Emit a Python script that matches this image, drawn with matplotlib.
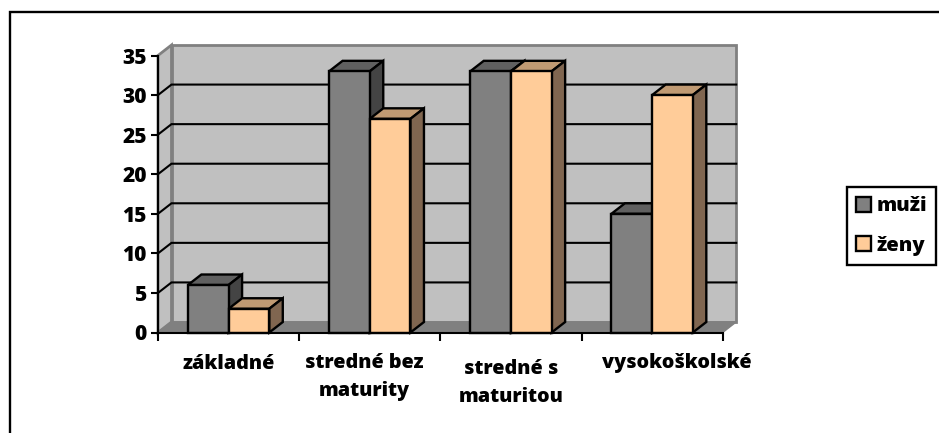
import matplotlib
matplotlib.use("Agg")
import matplotlib.pyplot as plt
from matplotlib.patches import Polygon, Patch
from matplotlib.transforms import ScaledTranslation

categories = ["základné", "stredné bez\nmaturity", "stredné s\nmaturitou", "vysokoškolské"]
muzi = [6, 33, 33, 15]
zeny = [3, 27, 33, 30]
y_ticks = [0, 5, 10, 15, 20, 25, 30, 35]

W, H = 939, 433
plt.rcParams["font.family"] = "Open Sans"
plt.rcParams["font.weight"] = 800
fig = plt.figure(figsize=(W / 100, H / 100), dpi=100, facecolor="white")
x0, x1, y0, y1 = 158, 722.7, 332.5, 55.5
ax = fig.add_axes([x0 / W, 1 - y0 / H, (x1 - x0) / W, (y0 - y1) / H])
ax.set_xlim(0, 4)
ax.set_ylim(0, 35)
ax.patch.set_visible(False)
for s in ("top", "right"):
    ax.spines[s].set_visible(False)
for s in ("left", "bottom"):
    ax.spines[s].set_linewidth(1.5)
    ax.spines[s].set_zorder(20)

DX = 13.5 / ((x1 - x0) / 4)
DY = 10.5 / ((y0 - y1) / 35)
GRAY = "#808080"
BW = 40.7 / ((x1 - x0) / 4)

def poly(pts, fc, ec, lw, z):
    ax.add_patch(Polygon(pts, closed=True, facecolor=fc, edgecolor=ec, linewidth=lw,
                         joinstyle="miter", clip_on=False, zorder=z))

# walls and floor
poly([(DX, DY), (4 + DX, DY), (4 + DX, 35 + DY), (DX, 35 + DY)], "#C0C0C0", GRAY, 2, 1)
poly([(0, 0), (DX, DY), (DX, 35 + DY), (0, 35)], "#C0C0C0", GRAY, 2, 1)
poly([(0, 0), (4, 0), (4 + DX, DY), (DX, DY)], GRAY, GRAY, 1, 2)

# gridlines
for v in y_ticks[1:-1]:
    ax.plot([0, DX, 4 + DX], [v, v + DY, v + DY], color="black", lw=1.5, zorder=3,
            clip_on=False, solid_joinstyle="miter")

# bars
def bar3d(i, value, offset, front, top, side, z):
    left = i + 0.5 + offset
    right = left + BW
    ax.bar(left, value, width=BW, align="edge", color=front, edgecolor="black",
           linewidth=1.7, zorder=z + 0.2, clip_on=False)
    poly([(left, value), (right, value), (right + DX, value + DY), (left + DX, value + DY)],
         top, "black", 1.7, z)
    poly([(right, 0), (right + DX, DY), (right + DX, value + DY), (right, value)],
         side, "black", 1.7, z)

for i in range(len(categories)):
    bar3d(i, muzi[i], -BW, GRAY, "#606060", "#444444", 5 + 2 * i)
    bar3d(i, zeny[i], 0, "#FFCC99", "#C09A73", "#806650", 6 + 2 * i)

# axes ticks
ax.set_yticks(y_ticks)
ax.tick_params(axis="y", length=5, width=1.5, labelsize=15, pad=3)
ax.set_xticks(range(5))
ax.set_xticklabels([])
ax.tick_params(axis="x", which="major", length=5.5, width=1.5)
ax.set_xticks([i + 0.5 for i in range(4)], categories, minor=True)
ax.tick_params(axis="x", which="minor", length=0, labelsize=14.2, pad=15)
label_dx = [0, -6, 0, 25]
label_dy = [-1, 0, -6, 0]
for lab, ox, oy in zip(ax.get_xticklabels(minor=True), label_dx, label_dy):
    lab.set_linespacing(1.5)
    lab.set_transform(lab.get_transform() +
                      ScaledTranslation(ox / 100, oy / 100, fig.dpi_scale_trans))

# outer frame
fig.add_artist(plt.Line2D([9.5 / W, 9.5 / W, 1], [0, 1 - 12 / H, 1 - 12 / H],
                          color="black", lw=1.7, solid_joinstyle="miter"))

# legend
handles = [Patch(facecolor=GRAY, edgecolor="black", linewidth=1.7),
           Patch(facecolor="#FFCC99", edgecolor="black", linewidth=1.7)]
leg = fig.legend(handles, ["muži", "ženy"], loc="center left",
                 bbox_to_anchor=(847 / W, 1 - 226 / H), fontsize=14.5, fancybox=False,
                 edgecolor="black", framealpha=1, handlelength=0.75, handleheight=0.75,
                 handletextpad=0.25, labelspacing=0.95, borderpad=0.45, borderaxespad=0)
leg.get_frame().set_linewidth(1.7)

fig.savefig("out.png", dpi=100, facecolor="white")
